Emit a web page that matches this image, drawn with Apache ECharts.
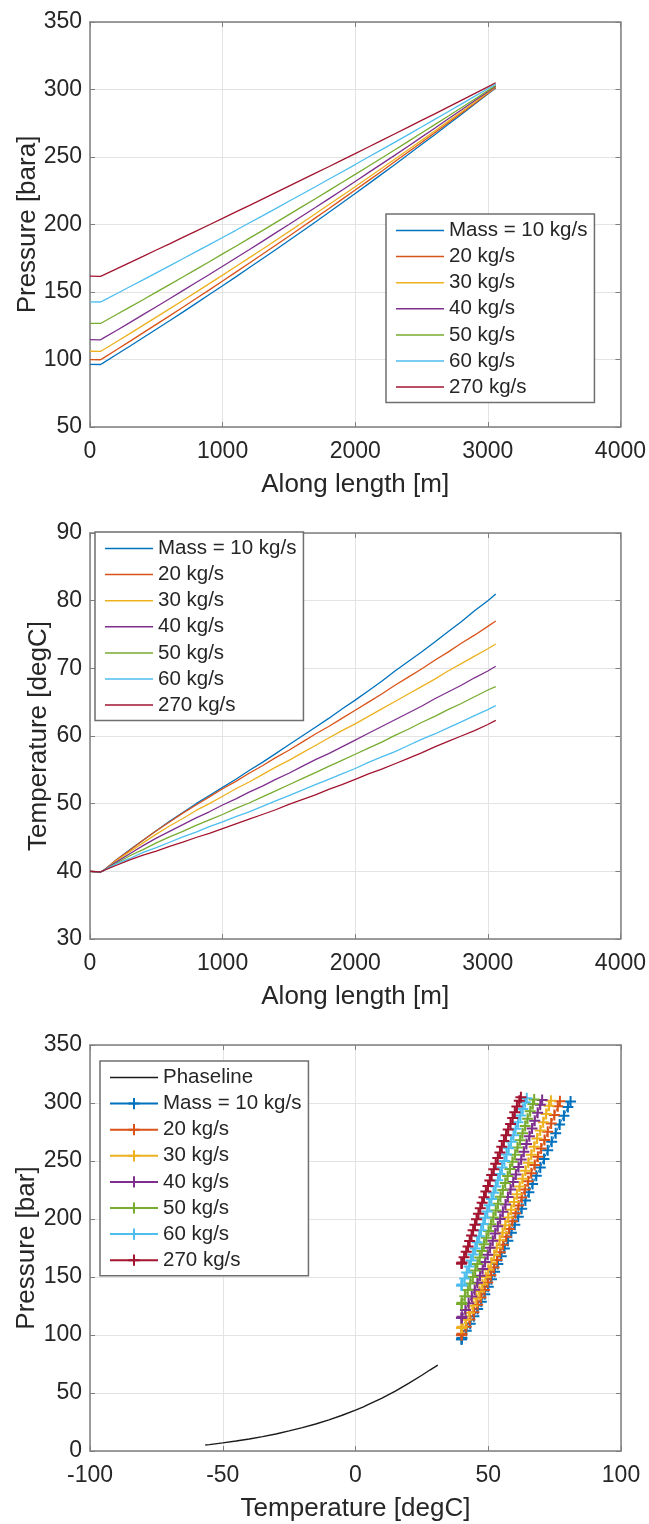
<!DOCTYPE html>
<html><head><meta charset="utf-8">
<script src="https://cdn.jsdelivr.net/npm/echarts@6/dist/echarts.min.js"></script>
<style>html,body{margin:0;padding:0;background:#fff}#c{width:649px;height:1524px}</style>
</head><body><div id="c"></div>
<script>
// ---- data ----
const lengths = [0, 80, 100, 200, 300, 400, 500, 600, 700, 800, 900, 1000, 1100, 1200, 1300, 1400, 1500, 1600, 1700, 1800, 1900, 2000, 2100, 2200, 2300, 2400, 2500, 2600, 2700, 2800, 2900, 3000, 3060];
const massLabels = ['Mass = 10 kg/s', '20 kg/s', '30 kg/s', '40 kg/s', '50 kg/s', '60 kg/s', '270 kg/s'];
const phaseLabel = 'Phaseline';

// Pressure [bara] along length
const p10  = [96.4, 96.3, 97.5, 103.7, 109.8, 116.1, 122.4, 128.7, 135.1, 141.6, 148.1, 154.6, 161.2, 167.9, 174.6, 181.3, 188.2, 195.0, 201.9, 208.9, 215.9, 223.0, 230.1, 237.3, 244.5, 251.8, 259.2, 266.5, 274.0, 281.5, 289.0, 296.6, 301.2];
const p20  = [99.9, 99.8, 101.0, 107.2, 113.4, 119.7, 126.0, 132.3, 138.7, 145.2, 151.6, 158.1, 164.7, 171.3, 177.9, 184.6, 191.3, 198.1, 204.9, 211.7, 218.6, 225.5, 232.5, 239.5, 246.6, 253.7, 260.8, 268.0, 275.2, 282.4, 289.7, 297.1, 301.5];
const p30  = [106.1, 106.0, 107.2, 113.2, 119.2, 125.3, 131.4, 137.5, 143.7, 149.9, 156.2, 162.5, 168.9, 175.3, 181.7, 188.2, 194.7, 201.3, 207.9, 214.6, 221.3, 228.0, 234.8, 241.6, 248.5, 255.4, 262.3, 269.3, 276.4, 283.4, 290.5, 297.7, 302.0];
const p40  = [114.7, 114.6, 115.8, 121.5, 127.3, 133.2, 139.1, 145.0, 151.0, 157.0, 163.0, 169.1, 175.2, 181.3, 187.5, 193.8, 200.0, 206.3, 212.6, 219.0, 225.4, 231.9, 238.4, 244.9, 251.4, 258.0, 264.7, 271.3, 278.1, 284.8, 291.6, 298.4, 302.5];
const p50  = [126.8, 126.7, 127.8, 133.3, 138.8, 144.3, 149.9, 155.5, 161.1, 166.8, 172.4, 178.2, 183.9, 189.7, 195.5, 201.4, 207.3, 213.2, 219.1, 225.1, 231.1, 237.1, 243.2, 249.3, 255.4, 261.6, 267.8, 274.0, 280.2, 286.5, 292.8, 299.2, 303.0];
const p60  = [142.7, 142.6, 143.6, 148.7, 153.9, 159.0, 164.2, 169.4, 174.6, 179.9, 185.1, 190.4, 195.7, 201.1, 206.4, 211.8, 217.2, 222.6, 228.0, 233.5, 238.9, 244.4, 250.0, 255.5, 261.0, 266.6, 272.2, 277.9, 283.5, 289.2, 294.9, 300.6, 304.0];
const p270 = [161.7, 161.6, 162.5, 167.1, 171.8, 176.4, 181.1, 185.7, 190.4, 195.1, 199.8, 204.5, 209.3, 214.0, 218.8, 223.6, 228.4, 233.2, 238.0, 242.8, 247.7, 252.5, 257.4, 262.3, 267.2, 272.1, 277.1, 282.0, 287.0, 292.0, 297.0, 302.0, 305.0];

// Temperature [degC] along length
const t10  = [40.0, 39.9, 40.1, 41.7, 43.2, 44.6, 46.0, 47.4, 48.7, 50.0, 51.2, 52.4, 53.6, 54.9, 56.1, 57.4, 58.7, 60.0, 61.3, 62.6, 64.0, 65.3, 66.7, 68.1, 69.6, 71.0, 72.4, 73.9, 75.4, 76.9, 78.5, 80.0, 81.0];
const t20  = [40.0, 39.9, 40.1, 41.7, 43.1, 44.6, 46.0, 47.3, 48.6, 49.8, 51.0, 52.2, 53.3, 54.5, 55.6, 56.8, 57.9, 59.1, 60.3, 61.4, 62.6, 63.8, 65.0, 66.2, 67.5, 68.7, 69.9, 71.2, 72.4, 73.7, 74.9, 76.2, 77.0];
const t30  = [40.0, 39.9, 40.1, 41.6, 42.9, 44.2, 45.5, 46.7, 47.8, 49.0, 50.0, 51.1, 52.2, 53.2, 54.3, 55.4, 56.4, 57.5, 58.6, 59.7, 60.8, 61.8, 62.9, 64.0, 65.1, 66.2, 67.3, 68.4, 69.6, 70.7, 71.8, 72.9, 73.6];
const t40  = [40.0, 39.9, 40.1, 41.4, 42.6, 43.8, 44.9, 45.9, 46.9, 47.9, 48.8, 49.8, 50.7, 51.7, 52.6, 53.6, 54.5, 55.5, 56.5, 57.4, 58.4, 59.4, 60.4, 61.4, 62.4, 63.4, 64.4, 65.5, 66.5, 67.5, 68.6, 69.6, 70.3];
const t50  = [40.0, 39.9, 40.1, 41.2, 42.3, 43.2, 44.2, 45.1, 45.9, 46.8, 47.6, 48.4, 49.3, 50.1, 51.0, 51.9, 52.8, 53.7, 54.6, 55.5, 56.4, 57.3, 58.2, 59.1, 60.1, 61.0, 62.0, 62.9, 63.9, 64.8, 65.8, 66.8, 67.3];
const t60  = [40.0, 39.9, 40.1, 41.1, 41.9, 42.8, 43.5, 44.3, 45.1, 45.8, 46.6, 47.3, 48.1, 48.8, 49.6, 50.4, 51.2, 52.0, 52.8, 53.6, 54.4, 55.2, 56.1, 56.9, 57.7, 58.6, 59.5, 60.3, 61.2, 62.1, 63.0, 63.9, 64.5];
const t270 = [40.0, 39.9, 40.1, 40.9, 41.7, 42.4, 43.0, 43.7, 44.3, 45.0, 45.6, 46.3, 47.0, 47.7, 48.4, 49.1, 49.9, 50.6, 51.3, 52.1, 52.8, 53.6, 54.4, 55.1, 55.9, 56.7, 57.5, 58.4, 59.2, 60.0, 60.8, 61.7, 62.3];

// Phase line (temperature [degC], pressure [bar])
const phaseT = [-56.6, -55, -50, -45, -40, -35, -30, -25, -20, -15, -10, -5, 0, 3, 3.7, 4.3, 5, 10, 15, 20, 25, 28, 31];
const phaseP = [5.2, 5.5, 7.0, 8.6, 10.4, 12.4, 14.7, 17.3, 20.1, 23.3, 26.9, 30.8, 35.2, 38.0, 39.6, 39.5, 40.2, 45.5, 51.6, 58.3, 65.3, 69.8, 74.0];

// axis ranges / ticks
const xLen = {min: 0, max: 4000, interval: 1000};
const yPres1 = {min: 50, max: 350, interval: 50};
const yTemp = {min: 30, max: 90, interval: 10};
const xTemp = {min: -100, max: 100, interval: 50};
const yPres3 = {min: 0, max: 350, interval: 50};

// ---- styles ----
const colors = ['#0072BD', '#D95319', '#EDB120', '#7E2F8E', '#77AC30', '#4DBEEE', '#A2142F'];
const pressures = [p10, p20, p30, p40, p50, p60, p270];
const temps = [t10, t20, t30, t40, t50, t60, t270];
const FONT = 'Liberation Sans, Arial, Helvetica, sans-serif';
const TXT = '#262626';
const AX = '#7f7f7f';
const GRIDC = '#e3e3e3';
const TICKFS = 23, NAMEFS = 26, LEGFS = 20.5;

const grids = [
  {left: 90, top: 22, width: 531, height: 405},
  {left: 90, top: 533, width: 531, height: 406},
  {left: 90, top: 1045, width: 531, height: 406}
];

function mkX(gi, r, name, isMain) {
  return {
    type: 'value', gridIndex: gi, position: isMain ? 'bottom' : 'top',
    min: r.min, max: r.max, interval: r.interval,
    name: isMain ? name : '', nameLocation: 'middle', nameGap: 45, nameMoveOverlap: false,
    nameTextStyle: {fontSize: NAMEFS, color: TXT, fontFamily: FONT},
    axisLine: {show: true, onZero: false, lineStyle: {color: AX, width: 1.5}},
    axisTick: {show: true, inside: true, length: 5, lineStyle: {color: AX, width: 1}},
    axisLabel: {show: isMain, fontSize: TICKFS, color: TXT, fontFamily: FONT, margin: 13,
                formatter: v => String(v)},
    splitLine: {show: isMain, lineStyle: {color: GRIDC, width: 1}}
  };
}
function mkY(gi, r, name, gap, isMain) {
  return {
    type: 'value', gridIndex: gi, position: isMain ? 'left' : 'right',
    min: r.min, max: r.max, interval: r.interval,
    name: isMain ? name : '', nameLocation: 'middle', nameGap: gap, nameRotate: 90,
    nameMoveOverlap: false,
    nameTextStyle: {fontSize: NAMEFS, color: TXT, fontFamily: FONT},
    axisLine: {show: true, onZero: false, lineStyle: {color: AX, width: 1.5}},
    axisTick: {show: true, inside: true, length: 5, lineStyle: {color: AX, width: 1}},
    axisLabel: {show: isMain, fontSize: TICKFS, color: TXT, fontFamily: FONT, margin: 8,
                formatter: v => String(v)},
    splitLine: {show: isMain, lineStyle: {color: GRIDC, width: 1}}
  };
}

const xAxis = [
  mkX(0, xLen, 'Along length [m]', true), mkX(0, xLen, '', false),
  mkX(1, xLen, 'Along length [m]', true), mkX(1, xLen, '', false),
  mkX(2, xTemp, 'Temperature [degC]', true), mkX(2, xTemp, '', false)
];
const yAxis = [
  mkY(0, yPres1, 'Pressure [bara]', 49, true), mkY(0, yPres1, '', 0, false),
  mkY(1, yTemp, 'Temperature [degC]', 38, true), mkY(1, yTemp, '', 0, false),
  mkY(2, yPres3, 'Pressure [bar]', 50, true), mkY(2, yPres3, '', 0, false)
];

const labelMap = {};
const series = [];
massLabels.forEach((lab, i) => {
  labelMap['a' + i] = lab; labelMap['b' + i] = lab; labelMap['c' + i] = lab;
  series.push({
    name: 'a' + i, type: 'line', xAxisIndex: 0, yAxisIndex: 0,
    data: lengths.map((L, k) => [L, pressures[i][k]]),
    symbol: 'none', lineStyle: {color: colors[i], width: 1.3}, itemStyle: {color: colors[i]},
    z: 3 + i, silent: true
  });
  series.push({
    name: 'b' + i, type: 'line', xAxisIndex: 2, yAxisIndex: 2,
    data: lengths.map((L, k) => [L, temps[i][k]]),
    symbol: 'none', lineStyle: {color: colors[i], width: 1.3}, itemStyle: {color: colors[i]},
    z: 3 + i, silent: true
  });
});
labelMap['ph'] = phaseLabel;
series.push({
  name: 'ph', type: 'line', xAxisIndex: 4, yAxisIndex: 4,
  data: phaseT.map((T, k) => [T, phaseP[k]]),
  symbol: 'none', lineStyle: {color: '#1a1a1a', width: 1.4}, itemStyle: {color: '#1a1a1a'},
  z: 3, silent: true
});
const PLUS = 'path://M5,0L5,10M0,5L10,5';
massLabels.forEach((lab, i) => {
  series.push({
    name: 'c' + i, type: 'line', xAxisIndex: 4, yAxisIndex: 4,
    data: temps[i].map((T, k) => [T, pressures[i][k]]),
    symbol: PLUS, symbolSize: 11, showSymbol: true, showAllSymbol: true,
    lineStyle: {color: colors[i], width: 1},
    itemStyle: {color: colors[i], borderColor: colors[i], borderWidth: 2},
    z: 4 + i, silent: true
  });
});

const LINEICON = 'path://M0,0L48,0L48,1.5L0,1.5Z';
function mkLegend(items, left, top, pad) {
  return {
    orient: 'vertical', left: left, top: top, data: items,
    formatter: n => labelMap[n], selectedMode: false,
    backgroundColor: '#ffffff', borderColor: '#6f6f6f', borderWidth: 1.5, borderRadius: 0,
    padding: pad, itemWidth: 48, itemHeight: 14, itemGap: 5.1,
    textStyle: {fontSize: LEGFS, color: TXT, fontFamily: FONT, lineHeight: LEGFS}
  };
}
const legend = [
  mkLegend(massLabels.map((l, i) => ({name: 'a' + i, icon: LINEICON})), 386, 214, [6, 7, 5, 10]),
  mkLegend(massLabels.map((l, i) => ({name: 'b' + i, icon: LINEICON})), 95, 532, [6, 7, 5, 10]),
  mkLegend([{name: 'ph', icon: LINEICON}].concat(massLabels.map((l, i) => ({name: 'c' + i}))), 100, 1061, [6, 7, 5, 9])
];

const chart = echarts.init(document.getElementById('c'), null, {renderer: 'canvas'});
chart.setOption({
  animation: false,
  backgroundColor: '#ffffff',
  grid: grids,
  xAxis: xAxis,
  yAxis: yAxis,
  legend: legend,
  series: series
});
</script></body></html>
